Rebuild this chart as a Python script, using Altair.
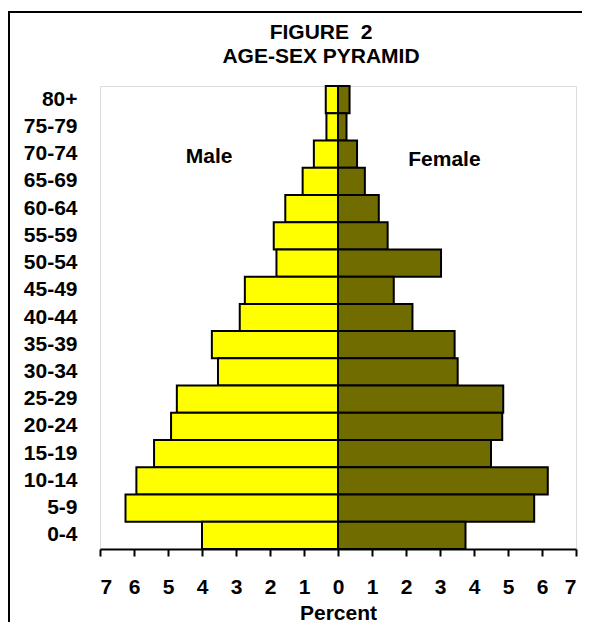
import altair as alt
import pandas as pd

title_lines = ["FIGURE\u00a0\u00a02", "AGE-SEX PYRAMID"]
ages = ["80+", "75-79", "70-74", "65-69", "60-64", "55-59", "50-54", "45-49",
        "40-44", "35-39", "30-34", "25-29", "20-24", "15-19", "10-14", "5-9", "0-4"]
male = [0.36, 0.34, 0.71, 1.04, 1.55, 1.89, 1.81, 2.74, 2.89, 3.71, 3.53,
        4.74, 4.91, 5.41, 5.93, 6.25, 4.00]
female = [0.34, 0.25, 0.56, 0.79, 1.20, 1.46, 3.03, 1.64, 2.19, 3.43, 3.52,
          4.86, 4.83, 4.50, 6.17, 5.77, 3.75]
sexes = ["Male", "Female"]
colors = ["#FFFF00", "#716C00"]
x_ticks = list(range(-7, 8))

FONT = "Liberation Sans"

rows = []
for a, m, f in zip(ages, male, female):
    rows.append({"age": a, "sex": "Male", "value": -m})
    rows.append({"age": a, "sex": "Female", "value": f})
df = pd.DataFrame(rows)

labels_df = pd.DataFrame({
    "age": ["70-74", "70-74"],
    "value": [-3.79, 3.13],
    "label": ["Male", "Female"],
})

W, H = 476, 463

x_scale = alt.Scale(domain=[-7, 7], nice=False, zero=False)
y_scale = alt.Scale(domain=ages, paddingInner=0, paddingOuter=0)

x_axis = alt.Axis(values=x_ticks, labelExpr="abs(datum.value)", grid=False,
                  labelOverlap=False, labelSeparation=0, labelBound=False,
                  title="Percent", titleFontSize=21, titleFont=FONT,
                  titleFontWeight="bold", titleColor="black", titlePadding=5,
                  labelFontSize=21, labelFont=FONT, labelFontWeight="bold",
                  labelColor="black", labelPadding=20,
                  domainColor="black", domainWidth=2,
                  tickColor="black", tickWidth=2, tickSize=7)

bars = alt.Chart(df).mark_bar(stroke="black", strokeWidth=2).encode(
    x=alt.X("value:Q", scale=x_scale, axis=x_axis),
    y=alt.Y("age:N", scale=y_scale, sort=ages,
            axis=alt.Axis(title=None, domain=False, ticks=False, labelPadding=23,
                          labelOverlap=False,
                          labelFontSize=21, labelFont=FONT, labelFontWeight="bold",
                          labelColor="black")),
    color=alt.Color("sex:N", scale=alt.Scale(domain=sexes, range=colors), legend=None),
)

male_txt = alt.Chart(labels_df[labels_df.label == "Male"]).mark_text(
    font=FONT, fontSize=21, fontWeight="bold", color="black", dy=3
).encode(
    x=alt.X("value:Q", scale=x_scale, axis=x_axis),
    y=alt.Y("age:N", scale=y_scale, sort=ages),
    text="label:N",
)
female_txt = alt.Chart(labels_df[labels_df.label == "Female"]).mark_text(
    font=FONT, fontSize=21, fontWeight="bold", color="black", dy=6
).encode(
    x=alt.X("value:Q", scale=x_scale, axis=x_axis),
    y=alt.Y("age:N", scale=y_scale, sort=ages),
    text="label:N",
)

title1 = alt.Chart(pd.DataFrame({"t": [title_lines[0]]})).mark_text(
    font=FONT, fontSize=21, fontWeight="bold", color="black",
    align="center", baseline="alphabetic"
).encode(x=alt.value(221), y=alt.value(-47), text="t:N")
title2 = alt.Chart(pd.DataFrame({"t": [title_lines[1]]})).mark_text(
    font=FONT, fontSize=21, fontWeight="bold", color="black",
    align="center", baseline="alphabetic"
).encode(x=alt.value(221), y=alt.value(-22.7), text="t:N")

frame_top = alt.Chart(df).mark_rule(color="black", strokeWidth=2).encode(
    x=alt.value(-92), x2=alt.value(W + 6), y=alt.value(-74)
)
frame_left = alt.Chart(df).mark_rule(color="black", strokeWidth=2).encode(
    x=alt.value(-91.5), y=alt.value(-75), y2=alt.value(560)
)

chart = alt.layer(bars, male_txt, female_txt, title1, title2, frame_top, frame_left).properties(
    width=W, height=H,
    autosize=alt.AutoSizeParams(type="none"),
    padding={"left": 92, "top": 78, "right": 6, "bottom": 73},
).configure_view(stroke=None).configure_axisX(labelOverlap=False).configure(background="white")

chart.save("out.html", embed_options={"renderer": "svg", "actions": False})
